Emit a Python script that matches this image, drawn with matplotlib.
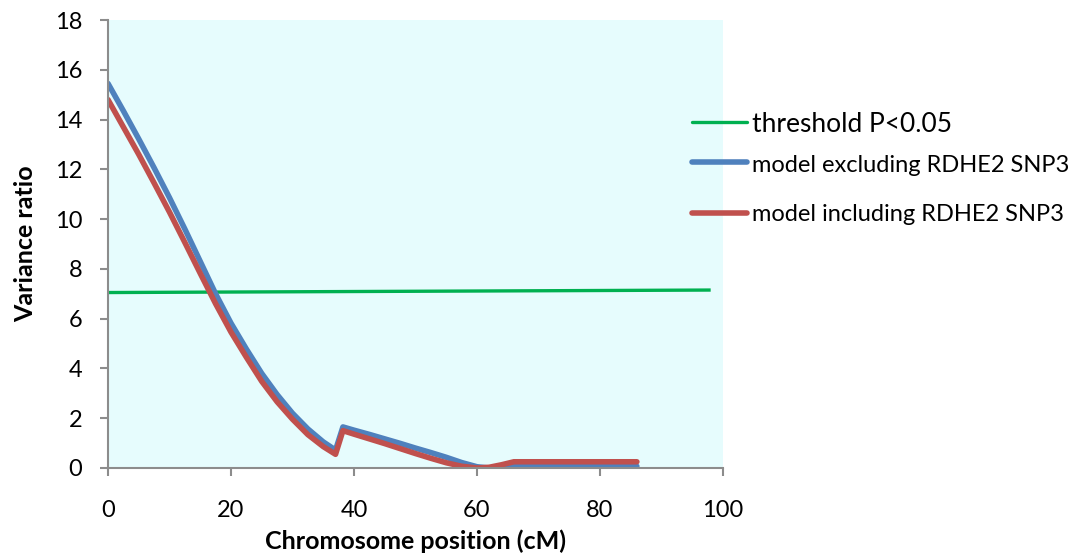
import matplotlib
matplotlib.use("Agg")
import matplotlib.pyplot as plt
from matplotlib.lines import Line2D

# ---- data ----
pos = [0, 2.5, 5, 7.5, 10, 12.5, 15, 17.5, 20, 22.5, 25, 27.5, 30, 32.5, 35, 37, 38.2,
       40, 42.5, 45, 47.5, 50, 52.5, 55, 57.5, 60, 62, 64, 66, 70, 75, 80, 86]
excl = [15.45, 14.35, 13.22, 12.06, 10.86, 9.6, 8.3, 7.0, 5.82, 4.78, 3.8, 2.95, 2.2, 1.57, 1.05, 0.72, 1.65,
        1.52, 1.35, 1.17, 0.99, 0.8, 0.62, 0.43, 0.22, 0.05, 0.0, 0.03, 0.07, 0.07, 0.07, 0.07, 0.07]
incl = [14.8, 13.7, 12.6, 11.45, 10.28, 9.06, 7.82, 6.6, 5.46, 4.45, 3.48, 2.66, 1.96, 1.34, 0.86, 0.55, 1.5,
        1.36, 1.17, 0.98, 0.78, 0.58, 0.39, 0.21, 0.07, 0.0, 0.03, 0.13, 0.25, 0.25, 0.25, 0.25, 0.25]
thr_x = [0, 98]
thr_y = [7.05, 7.15]
labels = ["threshold P<0.05", "model excluding RDHE2 SNP3", "model including RDHE2 SNP3"]
xticks = [0, 20, 40, 60, 80, 100]
yticks = [0, 2, 4, 6, 8, 10, 12, 14, 16, 18]

GREEN = "#00B050"
BLUE = "#4F81BD"
RED = "#C0504D"
BG = "#E6FCFD"
GREY = "#8C8C8C"

plt.rcParams['font.family'] = ['Lato', 'DejaVu Sans']

fig = plt.figure(figsize=(10.81, 5.59), dpi=100)
ax = fig.add_axes([0.0999, 0.1628, 0.5689, 0.8014])
ax.set_facecolor(BG)

ax.plot(thr_x, thr_y, color=GREEN, lw=2.4, solid_capstyle='butt')
ax.plot(pos, excl, color=BLUE, lw=4.0, solid_capstyle='round', solid_joinstyle='round')
ax.plot(pos, incl, color=RED, lw=4.0, solid_capstyle='round', solid_joinstyle='round')

ax.set_xlim(0, 100)
ax.set_ylim(0, 18)
ax.set_xticks(xticks)
ax.set_yticks(yticks)
for s in ['top', 'right']:
    ax.spines[s].set_visible(False)
for s in ['left', 'bottom']:
    ax.spines[s].set_color(GREY)
    ax.spines[s].set_linewidth(1.5)
ax.tick_params(axis='both', colors=GREY, labelcolor='black', labelsize=17,
               length=6, width=1.5, direction='out')
ax.tick_params(axis='x', pad=17)
ax.tick_params(axis='y', pad=12.5)

ax.set_xlabel("Chromosome position (cM)", fontsize=18, fontweight='bold', labelpad=6)
ax.set_ylabel("Variance ratio", fontsize=18, fontweight='bold', labelpad=13)

# legend (manual, uneven spacing and sizes as in reference)
line_y = [122, 162, 213]
text_y = [124, 166, 214]
leg_col = [GREEN, BLUE, RED]
leg_lw = [2.4, 4.0, 4.0]
leg_fs = [19, 17, 17]
W, H = 1081, 559
for ly, ty, c, lw, lab, fs in zip(line_y, text_y, leg_col, leg_lw, labels, leg_fs):
    fig.add_artist(Line2D([692 / W, 747 / W], [1 - ly / H, 1 - ly / H], color=c, lw=lw,
                          solid_capstyle='round', transform=fig.transFigure))
    fig.text(752 / W, 1 - ty / H, lab, fontsize=fs, va='center', ha='left', color='black')

fig.savefig("out.png", dpi=100)
